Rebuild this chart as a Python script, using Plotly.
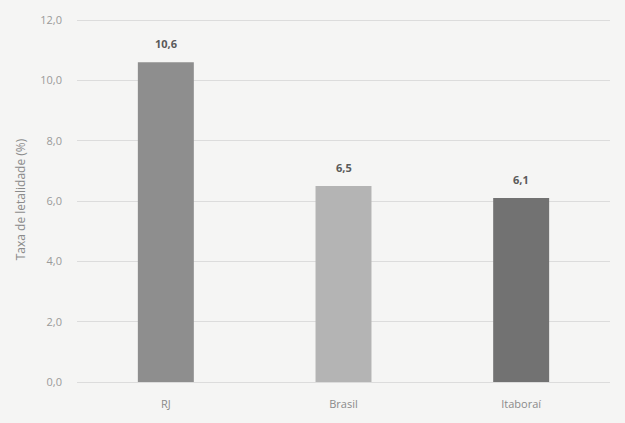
import plotly.graph_objects as go

# Taxa de letalidade por localidade
locais = ["RJ", "Brasil", "Itaboraí"]
taxas = [10.6, 6.5, 6.1]
cores = ["#8e8e8e", "#b4b4b4", "#727272"]
y_ticks = [0, 2, 4, 6, 8, 10, 12]

fig = go.Figure(
    go.Bar(
        x=locais,
        y=taxas,
        marker=dict(color=cores, line=dict(width=0)),
        width=0.315,
        cliponaxis=False,
    )
)

# Rótulos de valor acima de cada barra
for local, valor in zip(locais, taxas):
    fig.add_annotation(
        x=local,
        y=valor,
        text=f"<b>{valor:.1f}</b>".replace(".", ","),
        showarrow=False,
        yanchor="bottom",
        yshift=9,
        font=dict(family="Open Sans", size=11, color="#5a5a5a"),
    )

fig.update_layout(
    width=625,
    height=423,
    margin=dict(l=77, r=15, t=17, b=41),
    paper_bgcolor="#f5f5f4",
    plot_bgcolor="#f5f5f4",
    separators=",.",
    showlegend=False,
    font=dict(family="Open Sans", size=11, color="#8a8a8a"),
)

fig.update_xaxes(
    showgrid=False,
    showline=False,
    ticks="",
    ticklabelstandoff=14,
    tickfont=dict(size=11, color="#8a8a8a"),
)

fig.update_yaxes(
    range=[0, 12.1],
    tickvals=y_ticks,
    tickformat=".1f",
    showgrid=True,
    gridcolor="#dcdcdc",
    gridwidth=1,
    zeroline=True,
    zerolinecolor="#dcdcdc",
    zerolinewidth=1,
    showline=False,
    ticks="",
    ticklabelstandoff=14,
    tickfont=dict(size=11, color="#9a9a9a"),
    title=dict(text="Taxa de letalidade (%)", font=dict(size=12, color="#8a8a8a"), standoff=12),
)

fig.write_html("out.html")
